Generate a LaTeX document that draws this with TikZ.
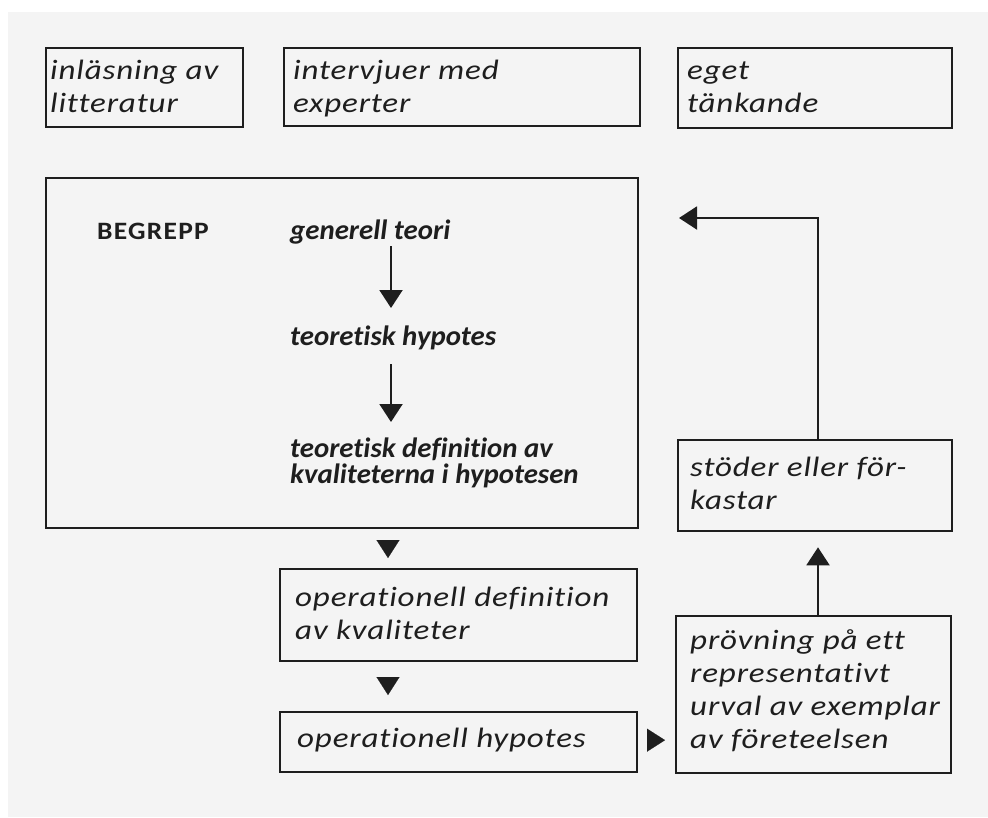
\documentclass[tikz,border=0pt]{standalone}
\usepackage{fontspec}
\setmainfont{Carlito}[Ligatures=NoCommon]
\newfontfamily\boxfont{Carlito}[FakeStretch=1.18, LetterSpace=3, Ligatures=NoCommon]
\newfontfamily\innerfont{Carlito}[FakeStretch=1.03, Ligatures=NoCommon]
\newfontfamily\capfont{Carlito}[FakeStretch=1.1, LetterSpace=5, Ligatures=NoCommon]
\usetikzlibrary{arrows.meta,calc}
\definecolor{ink}{HTML}{1E1E1E}
\definecolor{paper}{HTML}{F4F4F4}
\tikzset{
  box/.style={draw=ink, line width=2.3pt, rectangle, inner sep=0pt, anchor=north west},
  btxt/.style={anchor=base west, inner sep=0pt, text=ink, font=\boxfont\fontsize{28}{33}\selectfont\itshape, align=left},
  itxt/.style={anchor=base west, inner sep=0pt, text=ink, font=\innerfont\fontsize{28}{26}\selectfont\bfseries\itshape, align=left},
  tri/.style={-{Triangle[length=18pt,width=23pt,fill=ink]}, draw=ink, line width=2pt},
  tipOnly/.style={-{Triangle[length=18pt,width=23pt,fill=ink]}, draw=ink, line width=0.1pt},
}
\begin{document}
\begin{tikzpicture}[x=1pt,y=-1pt]
\useasboundingbox (0,0) rectangle (988,817);
\fill[white] (0,0) rectangle (988,817);
\fill[paper] (8,12) rectangle (988,817);
% boxes
\node[box, minimum width=197pt, minimum height=79pt] (b1) at (45,47) {};
\node[box, minimum width=356pt, minimum height=78pt] (b2) at (283,47) {};
\node[box, minimum width=274pt, minimum height=80pt] (b3) at (677,47) {};
\node[box, minimum width=592pt, minimum height=350pt] (big) at (45,177) {};
\node[box, minimum width=274pt, minimum height=91pt] (stod) at (677,439) {};
\node[box, minimum width=357pt, minimum height=92pt] (opdef) at (279,568) {};
\node[box, minimum width=357pt, minimum height=60pt] (ophyp) at (279,711) {};
\node[box, minimum width=275pt, minimum height=157pt] (prov) at (675,615) {};
% texts (anchor = baseline of the last line)
\node[btxt] (t1) at (50,112) {inläsning av\\litteratur};
\node[btxt] (t2) at (293,112) {intervjuer med\\experter};
\node[btxt] (t3) at (687,112) {eget\\tänkande};
\node[anchor=base west, inner sep=0pt, text=ink, font=\capfont\fontsize{25}{25}\selectfont\bfseries] (begr) at (97,239) {BEGREPP};
\node[itxt] (gen) at (290,239) {generell teori};
\node[itxt] (teohyp) at (290,345) {teoretisk hypotes};
\node[itxt] (teodef) at (290,483) {teoretisk definition av\\kvaliteterna i hypotesen};
\node[btxt] (topdef) at (295,639) {operationell definition\\av kvaliteter};
\node[btxt] (tophyp) at (297,747) {operationell hypotes};
\node[btxt] (tprov) at (690,748) {prövning på ett\\representativt\\urval av exemplar\\av företeelsen};
\node[btxt] (tstod) at (690,509) {stöder eller för-\\kastar};
% connectors
\coordinate (ax1) at (391,0);
\coordinate (ax2) at (388,0);
\coordinate (ax3) at (818,0);
\coordinate (fbend) at (679,218);
\draw[tri] ([yshift=-7pt]ax1 |- gen.base) -- ([yshift=37pt]ax1 |- teohyp.base);
\draw[tri] ([yshift=-19pt]ax1 |- teohyp.base) -- ([yshift=61pt]ax1 |- teodef.base);
\draw[tipOnly, shorten <=13pt, shorten >=10pt] (ax2 |- big.south) -- (ax2 |- opdef.north);
\draw[tipOnly, shorten <=17pt, shorten >=16pt] (ax2 |- opdef.south) -- (ax2 |- ophyp.north);
\draw[tipOnly, shorten <=9pt, shorten >=10pt] ([yshift=2pt]ophyp.east) -- ([yshift=2pt]ophyp.east -| prov.west);
\draw[tri, shorten >=15pt] (ax3 |- prov.north) -- (ax3 |- stod.south);
\draw[tri] (ax3 |- stod.north) |- (fbend);
\end{tikzpicture}
\end{document}
